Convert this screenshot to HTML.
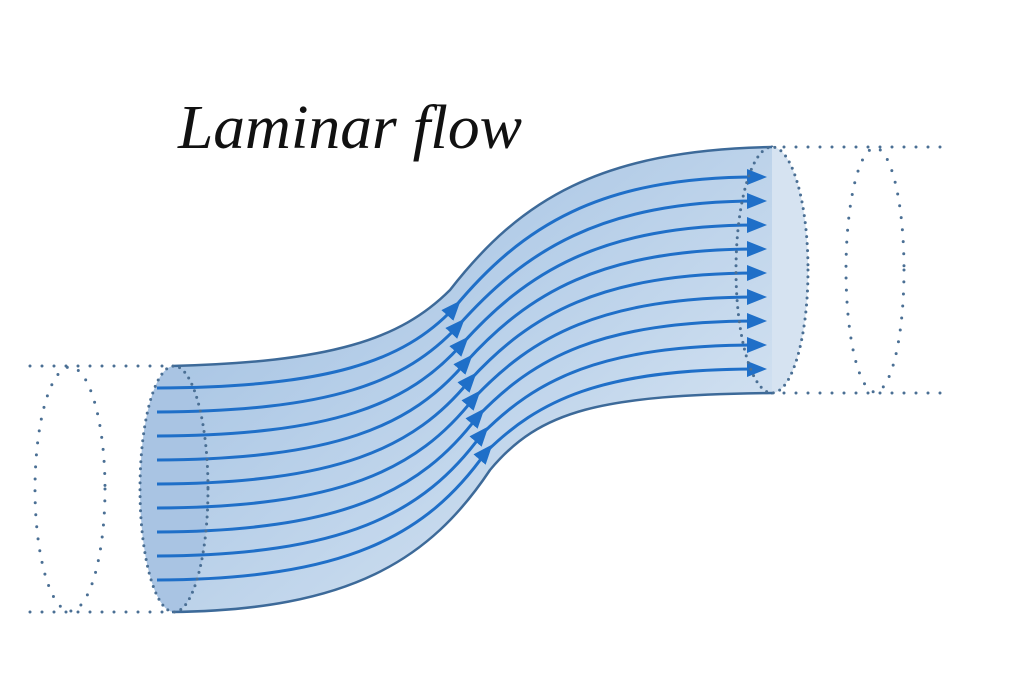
<!DOCTYPE html>
<html><head><meta charset="utf-8"><style>html,body{margin:0;padding:0;background:#fff}svg{display:block}</style></head>
<body>
<svg width="1024" height="683" viewBox="0 0 1024 683" xmlns="http://www.w3.org/2000/svg">
<defs>
<linearGradient id="g" x1="0" y1="0" x2="1" y2="1">
<stop offset="0" stop-color="#9bbce0"/>
<stop offset="0.6" stop-color="#c3d7ec"/>
<stop offset="1" stop-color="#e2ecf6"/>
</linearGradient>
<marker id="am" viewBox="0 0 10 10" refX="5" refY="5" markerWidth="20" markerHeight="20" orient="auto" markerUnits="userSpaceOnUse">
<path d="M0,1 L10,5 L0,9 z" fill="#1f6fc8"/>
</marker>
</defs>
<text x="178" y="148" font-family="Liberation Serif, serif" font-style="italic" font-size="62" textLength="344" lengthAdjust="spacingAndGlyphs" fill="#111">Laminar flow</text>
<g stroke="#4a6f94" stroke-width="3" stroke-dasharray="0 12" stroke-linecap="round" fill="none">
<line x1="30" y1="366" x2="172" y2="366"/>
<line x1="30" y1="612" x2="172" y2="612"/>
<ellipse cx="70" cy="489" rx="35" ry="122"/>
<line x1="772" y1="147" x2="950" y2="147"/>
<line x1="772" y1="393" x2="950" y2="393"/>
<ellipse cx="875" cy="270" rx="29" ry="122"/>
</g>
<ellipse cx="772" cy="270" rx="36" ry="123" fill="#d6e3f1"/>
<path d="M172,366 C330,362 400,340 450,290 C520,200 600,150 772,147 L772,393 C600,395 540,410 490,470 C430,560 350,610 172,612 Z" fill="url(#g)"/>
<ellipse cx="174" cy="489" rx="34" ry="123" fill="#a9c4e3"/>
<path d="M172,366 C330,362 400,340 450,290 C520,200 600,150 772,147" fill="none" stroke="#3d6a99" stroke-width="2.5"/>
<path d="M772,393 C600,395 540,410 490,470 C430,560 350,610 172,612" fill="none" stroke="#3d6a99" stroke-width="2.5"/>
<g stroke="#1f6fc8" stroke-width="3" fill="none" marker-mid="url(#am)" marker-end="url(#am)">
<path d="M157,388 C328,387 403,362 454,308 C522,226 600,177 757,177"/>
<path d="M157,412 C330,411 405,383 458,326 C524,252 600,201 757,201"/>
<path d="M157,436 C332,435 408,405 462,344 C526,273 600,225 757,225"/>
<path d="M157,460 C334,459 411,427 466,362 C528,294 600,249 757,249"/>
<path d="M157,484 C336,483 414,449 470,380 C530,315 600,273 757,273"/>
<path d="M157,508 C338,507 417,471 474,398 C532,337 600,297 757,297"/>
<path d="M157,532 C340,531 420,493 478,416 C534,358 600,321 757,321"/>
<path d="M157,556 C342,555 423,515 482,434 C536,380 600,345 757,345"/>
<path d="M157,580 C344,579 426,537 486,452 C538,401 600,369 757,369"/>
</g>
<g stroke="#4a6f94" stroke-width="3" stroke-dasharray="0 7" stroke-linecap="round" fill="none">
<ellipse cx="174" cy="489" rx="34" ry="123"/>
<ellipse cx="772" cy="270" rx="36" ry="123"/>
</g>
</svg>
</body></html>
